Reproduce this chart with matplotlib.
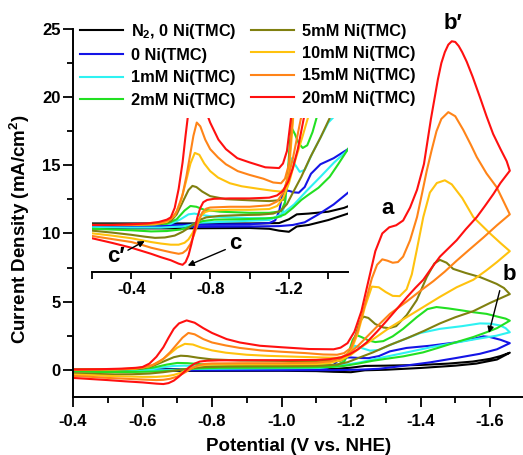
import numpy as np
import matplotlib
matplotlib.use("Agg")
import matplotlib.pyplot as plt
from matplotlib.ticker import MultipleLocator, FixedLocator

plt.rcParams['font.family'] = ['Liberation Sans', 'DejaVu Sans']
plt.rcParams['font.weight'] = 'bold'
plt.rcParams['mathtext.fontset'] = 'custom'
plt.rcParams['mathtext.rm'] = 'Liberation Sans:bold'
plt.rcParams['mathtext.it'] = 'Liberation Sans:bold'
plt.rcParams['mathtext.bf'] = 'Liberation Sans:bold'

# CV loops: cathodic scan from -0.2 V to -1.657 V, then back to -0.2 V
# potential in V vs NHE, current density in mA/cm2
black_v = [-0.20, -0.60, -1.00, -1.15, -1.20, -1.24, -1.30, -1.40, -1.48, -1.55, -1.60, -1.63, -1.657,
           -1.62, -1.56, -1.50, -1.40, -1.30, -1.24, -1.20, -1.15, -1.10, -1.00, -0.60, -0.20]
black_j = [0.04, 0.04, 0.04, 0.05, 0.15, 0.28, 0.30, 0.35, 0.45, 0.60, 0.80, 1.00, 1.25,
           0.75, 0.45, 0.30, 0.13, 0.00, -0.04, -0.18, -0.15, -0.10, -0.08, -0.09, -0.09]

blue_v = [-0.20, -0.40, -0.80, -1.00, -1.10, -1.13, -1.15, -1.165, -1.18, -1.20, -1.225, -1.25, -1.28,
          -1.312, -1.36, -1.427, -1.50, -1.55, -1.581, -1.60, -1.63, -1.657,
          -1.62, -1.571, -1.50, -1.427, -1.35, -1.28, -1.22, -1.15, -1.00, -0.70, -0.40, -0.20]
blue_j = [0.00, 0.00, 0.01, 0.02, 0.05, 0.12, 0.35, 0.75, 0.90, 0.90, 0.86, 0.85, 1.00,
          1.35, 1.60, 1.76, 2.00, 2.25, 2.45, 2.40, 2.20, 1.95,
          1.50, 1.17, 0.85, 0.54, 0.28, 0.07, 0.00, -0.03, -0.04, -0.05, -0.05, -0.05]

cyan_v = [-0.20, -0.40, -0.60, -0.65, -0.69, -0.72, -0.76, -0.82, -1.00, -1.12, -1.16, -1.18, -1.195,
          -1.211, -1.23, -1.255, -1.28, -1.32, -1.36, -1.40, -1.456, -1.52, -1.571, -1.60, -1.629,
          -1.645, -1.657,
          -1.619, -1.56, -1.504, -1.43, -1.36, -1.29, -1.226, -1.168, -1.10, -0.90, -0.75, -0.70,
          -0.66, -0.55, -0.40, -0.20]
cyan_j = [0.00, 0.00, 0.03, 0.15, 0.28, 0.30, 0.26, 0.22, 0.18, 0.18, 0.22, 0.55, 1.30,
          1.76, 1.60, 1.40, 1.45, 1.90, 2.30, 2.70, 3.00, 3.20, 3.40, 3.38, 3.25,
          3.05, 2.75,
          2.50, 2.25, 2.00, 1.65, 1.27, 0.90, 0.54, 0.30, 0.13, 0.09, 0.06, 0.00,
          -0.04, -0.07, -0.07, -0.06]

green_v = [-0.20, -0.40, -0.58, -0.63, -0.67, -0.70, -0.73, -0.77, -0.85, -1.00, -1.10, -1.16, -1.18,
           -1.195, -1.205, -1.215, -1.23, -1.25, -1.27, -1.293, -1.32, -1.35, -1.389, -1.42, -1.446,
           -1.48, -1.52, -1.552, -1.59, -1.629, -1.645, -1.657,
           -1.62, -1.59, -1.552, -1.50, -1.45, -1.407, -1.35, -1.30, -1.263, -1.22, -1.18, -1.14,
           -1.08, -0.95, -0.82, -0.76, -0.72, -0.69, -0.65, -0.58, -0.50, -0.40, -0.30, -0.20]
green_j = [0.00, 0.00, 0.03, 0.15, 0.38, 0.50, 0.48, 0.40, 0.35, 0.32, 0.32, 0.36, 0.60,
           1.40, 2.20, 2.55, 2.40, 2.15, 2.03, 2.10, 2.45, 3.00, 3.85, 4.45, 4.60,
           4.50, 4.35, 4.22, 4.10, 3.85, 3.75, 3.60,
           3.05, 2.75, 2.40, 2.00, 1.60, 1.27, 0.98, 0.80, 0.66, 0.45, 0.28, 0.20,
           0.17, 0.15, 0.14, 0.10, 0.02, -0.06, -0.12, -0.16, -0.17, -0.14, -0.12, -0.10]

olive_v = [-0.20, -0.40, -0.55, -0.60, -0.63, -0.66, -0.69, -0.71, -0.73, -0.76, -0.80, -0.88, -1.00,
           -1.10, -1.17, -1.19, -1.21, -1.225, -1.236, -1.25, -1.27, -1.293, -1.31, -1.33, -1.36,
           -1.389, -1.418, -1.44, -1.456, -1.475, -1.494, -1.53, -1.571, -1.60, -1.619, -1.64, -1.657,
           -1.60, -1.552, -1.50, -1.456, -1.41, -1.36, -1.31, -1.263, -1.22, -1.19, -1.16, -1.12,
           -1.05, -0.95, -0.85, -0.78, -0.75, -0.72, -0.69, -0.66, -0.62, -0.57, -0.52, -0.47,
           -0.40, -0.30, -0.20]
olive_j = [0.00, 0.00, 0.03, 0.10, 0.28, 0.60, 0.92, 1.03, 1.00, 0.88, 0.76, 0.68, 0.65,
           0.63, 0.66, 0.95, 2.30, 3.50, 3.90, 3.80, 3.35, 3.10, 3.05, 3.20, 4.00,
           5.10, 6.80, 7.80, 8.06, 7.85, 7.40, 7.10, 6.80, 6.50, 6.30, 6.00, 5.55,
           4.90, 4.30, 3.85, 3.40, 2.85, 2.30, 1.80, 1.27, 0.85, 0.55, 0.38, 0.30,
           0.27, 0.26, 0.24, 0.20, 0.14, 0.04, -0.08, -0.18, -0.28, -0.33, -0.34, -0.31,
           -0.26, -0.20, -0.15]

yellow_v = [-0.20, -0.40, -0.52, -0.58, -0.62, -0.65, -0.68, -0.70, -0.722, -0.745, -0.77, -0.80, -0.84,
            -0.90, -0.96, -1.05, -1.12, -1.16, -1.18, -1.20, -1.22, -1.24, -1.26, -1.28, -1.30,
            -1.32, -1.34, -1.36, -1.375, -1.389, -1.408, -1.427, -1.447, -1.47, -1.49, -1.52, -1.552,
            -1.60, -1.63, -1.657,
            -1.62, -1.59, -1.552, -1.504, -1.456, -1.408, -1.36, -1.312, -1.27, -1.226, -1.20, -1.17,
            -1.14, -1.10, -1.00, -0.90, -0.80, -0.775, -0.755, -0.74, -0.725, -0.71, -0.69, -0.67,
            -0.64, -0.60, -0.55, -0.50, -0.45, -0.40, -0.30, -0.20]
yellow_j = [0.00, 0.00, 0.02, 0.08, 0.25, 0.60, 1.20, 1.62, 1.90, 1.85, 1.62, 1.42, 1.25,
            1.10, 1.02, 0.95, 0.90, 0.88, 0.98, 1.40, 2.70, 4.60, 6.10, 6.05, 5.70,
            5.42, 5.40, 5.90, 7.00, 8.75, 11.2, 13.0, 13.7, 13.9, 13.6, 12.6, 11.2,
            10.0, 9.30, 8.70,
            7.90, 7.30, 6.60, 6.05, 5.35, 4.60, 3.85, 3.10, 2.35, 1.60, 1.10, 0.70,
            0.50, 0.42, 0.40, 0.40, 0.38, 0.34, 0.25, 0.12, -0.05, -0.22, -0.38, -0.47,
            -0.52, -0.52, -0.49, -0.45, -0.40, -0.35, -0.28, -0.22]

orange_v = [-0.20, -0.40, -0.50, -0.56, -0.60, -0.63, -0.66, -0.68, -0.70, -0.715, -0.732, -0.75, -0.775,
            -0.80, -0.84, -0.88, -0.94, -1.00, -1.07, -1.12, -1.16, -1.18, -1.20, -1.22, -1.24,
            -1.26, -1.275, -1.29, -1.305, -1.32, -1.335, -1.35, -1.37, -1.39, -1.405, -1.418, -1.432,
            -1.446, -1.46, -1.48, -1.50, -1.523, -1.545, -1.562, -1.59, -1.619, -1.64, -1.657,
            -1.62, -1.581, -1.54, -1.504, -1.47, -1.437, -1.40, -1.36, -1.312, -1.28, -1.245, -1.22,
            -1.197, -1.17, -1.14, -1.10, -1.00, -0.90, -0.80, -0.78, -0.76, -0.745, -0.73, -0.715,
            -0.70, -0.68, -0.66, -0.64, -0.60, -0.55, -0.50, -0.45, -0.40, -0.30, -0.20]
orange_j = [0.00, 0.00, 0.03, 0.07, 0.15, 0.35, 0.80, 1.30, 1.90, 2.35, 2.70, 2.60, 2.25,
            2.00, 1.78, 1.60, 1.42, 1.32, 1.22, 1.12, 1.10, 1.22, 1.60, 2.90, 4.80,
            6.70, 7.70, 8.10, 8.00, 7.85, 7.90, 8.30, 9.50, 11.2, 13.0, 14.6, 16.1,
            17.5, 18.4, 18.9, 18.6, 17.6, 16.5, 15.6, 14.4, 13.4, 12.3, 11.4,
            10.6, 9.70, 8.80, 8.00, 7.20, 6.50, 5.80, 5.00, 4.10, 3.30, 2.40, 1.75,
            1.27, 0.85, 0.62, 0.52, 0.48, 0.48, 0.46, 0.43, 0.33, 0.15, -0.08, -0.30,
            -0.50, -0.66, -0.74, -0.76, -0.72, -0.66, -0.60, -0.52, -0.45, -0.37, -0.29]

red_v = [-0.20, -0.30, -0.40, -0.48, -0.54, -0.58, -0.60, -0.62, -0.64, -0.66, -0.675, -0.69, -0.705,
         -0.727, -0.75, -0.775, -0.80, -0.842, -0.88, -0.938, -1.00, -1.08, -1.15, -1.17, -1.19,
         -1.21, -1.23, -1.25, -1.27, -1.29, -1.31, -1.33, -1.35, -1.37, -1.39, -1.41, -1.43,
         -1.45, -1.46, -1.47, -1.48, -1.49, -1.50, -1.51, -1.52, -1.533, -1.55, -1.571, -1.59,
         -1.609, -1.63, -1.648, -1.657,
         -1.63, -1.61, -1.585, -1.562, -1.53, -1.504, -1.48, -1.456, -1.43, -1.408, -1.385, -1.36,
         -1.33, -1.303, -1.275, -1.245, -1.22, -1.197, -1.17, -1.14, -1.10, -1.00, -0.90, -0.82,
         -0.785, -0.765, -0.75, -0.735, -0.72, -0.705, -0.69, -0.675, -0.66, -0.64, -0.60, -0.55,
         -0.50, -0.45, -0.40, -0.30, -0.20]
red_j = [0.00, 0.00, 0.02, 0.04, 0.08, 0.14, 0.20, 0.45, 0.95, 1.65, 2.35, 3.00, 3.40,
         3.62, 3.45, 3.05, 2.70, 2.25, 2.00, 1.76, 1.65, 1.52, 1.50, 1.62, 1.95,
         2.80, 4.30, 6.50, 8.70, 10.0, 10.45, 10.6, 10.95, 11.9, 13.2, 15.1, 18.4,
         21.3, 22.5, 23.3, 23.85, 24.1, 24.05, 23.75, 23.3, 22.6, 21.5, 20.0, 18.6,
         17.3, 16.2, 15.3, 14.6,
         13.7, 12.9, 12.0, 11.2, 10.3, 9.50, 8.90, 8.30, 7.40, 6.60, 6.00, 5.30,
         4.40, 3.60, 2.80, 2.00, 1.50, 1.15, 0.90, 0.78, 0.72, 0.70, 0.70, 0.69,
         0.66, 0.60, 0.45, 0.20, -0.15, -0.50, -0.80, -0.98, -1.05, -1.02, -0.93, -0.85,
         -0.76, -0.68, -0.60, -0.47, -0.35]

labels = ["N$_2$, 0 Ni(TMC)", "0 Ni(TMC)", "1mM Ni(TMC)", "2mM Ni(TMC)",
          "5mM Ni(TMC)", "10mM Ni(TMC)", "15mM Ni(TMC)", "20mM Ni(TMC)"]
colors = ["#000000", "#1414e6", "#2ef2f2", "#22e022",
          "#808010", "#ffc20e", "#ff8418", "#ff1010"]
series = [(black_v, black_j), (blue_v, blue_j), (cyan_v, cyan_j), (green_v, green_j),
          (olive_v, olive_j), (yellow_v, yellow_j), (orange_v, orange_j), (red_v, red_j)]

fig = plt.figure(figsize=(5.23, 4.55), dpi=100)
ax = fig.add_axes([73 / 523, 58 / 455, 451.75 / 523, 368 / 455])
ins = fig.add_axes([92 / 523, 183 / 455, 256 / 523, 154 / 455])
ins.patch.set_visible(False)

for (v, j), c, lab in zip(series, colors, labels):
    ax.plot(v, j, color=c, lw=1.5, label=lab, solid_joinstyle="round")
    ins.plot(v, j, color=c, lw=1.5, solid_joinstyle="round")

# main axes
ax.set_xlim(-0.4, -1.7)
ax.set_ylim(-2, 25)
for s in ("top", "right"):
    ax.spines[s].set_visible(False)
for s in ("left", "bottom"):
    ax.spines[s].set_linewidth(1.4)
ax.xaxis.set_major_locator(FixedLocator([-0.4, -0.6, -0.8, -1.0, -1.2, -1.4, -1.6]))
ax.xaxis.set_minor_locator(FixedLocator([-0.5, -0.7, -0.9, -1.1, -1.3, -1.5, -1.7]))
ax.yaxis.set_major_locator(MultipleLocator(5))
ax.yaxis.set_minor_locator(MultipleLocator(2.5))
ax.tick_params(which="major", direction="out", length=7, width=1.3, labelsize=12)
ax.tick_params(which="minor", direction="out", length=4.5, width=1.3)
ax.tick_params(axis="x", pad=5)
ax.tick_params(axis="y", pad=2)
ax.set_xticklabels(["-0.4", "-0.6", "-0.8", "-1.0", "-1.2", "-1.4", "-1.6"])
ax.set_xlabel("Potential (V vs. NHE)", fontsize=13.5, fontweight="bold")
ax.set_ylabel("Current Density (mA/cm$^2$)", fontsize=13.5, fontweight="bold")
ax.xaxis.set_label_coords(0.5, -0.112)
ax.yaxis.set_label_coords(-0.09, 0.457)

ax.legend(ncol=2, frameon=False, loc="upper left", bbox_to_anchor=(0.0155, 1.02),
          borderaxespad=0, borderpad=0, fontsize=11.8, handlelength=2.6,
          handletextpad=0.5, columnspacing=0.9, labelspacing=0.45)

# peak labels
ax.text(-1.304, 11.8, "a", fontsize=16, ha="center", va="center")
ax.text(-1.494, 25.4, "b\u2032", fontsize=16, ha="center", va="center")
ax.text(-1.657, 7.0, "b", fontsize=16, ha="center", va="center")
ax.annotate("", xy=(-1.595, 2.5), xytext=(-1.63, 6.0),
            arrowprops=dict(arrowstyle="-|>", color="black", lw=1, mutation_scale=9))

# inset: low-current region
ins.set_xlim(-0.2, -1.5)
ins.set_ylim(-1.24, 2.82)
for s in ("top", "right", "left"):
    ins.spines[s].set_visible(False)
ins.spines["bottom"].set_linewidth(1.4)
ins.set_yticks([])
ins.xaxis.set_major_locator(FixedLocator([-0.4, -0.8, -1.2]))
ins.xaxis.set_minor_locator(FixedLocator([-0.2, -0.6, -1.0, -1.4]))
ins.set_xticklabels(["-0.4", "-0.8", "-1.2"])
ins.tick_params(which="major", direction="out", length=5, width=1.3, labelsize=12, pad=2)
ins.tick_params(which="minor", direction="out", length=5, width=1.3)

ins.text(-0.928, -0.48, "c", fontsize=16, ha="center", va="center")
ins.annotate("", xy=(-0.673, -1.1), xytext=(-0.89, -0.62),
             arrowprops=dict(arrowstyle="-|>", color="black", lw=1, mutation_scale=9))
ins.text(-0.3235, -0.83, "c\u2032", fontsize=16, ha="center", va="center")
ins.annotate("", xy=(-0.48, -0.39), xytext=(-0.37, -0.70),
             arrowprops=dict(arrowstyle="-|>", color="black", lw=1, mutation_scale=9))

fig.savefig("out.png", dpi=100)
